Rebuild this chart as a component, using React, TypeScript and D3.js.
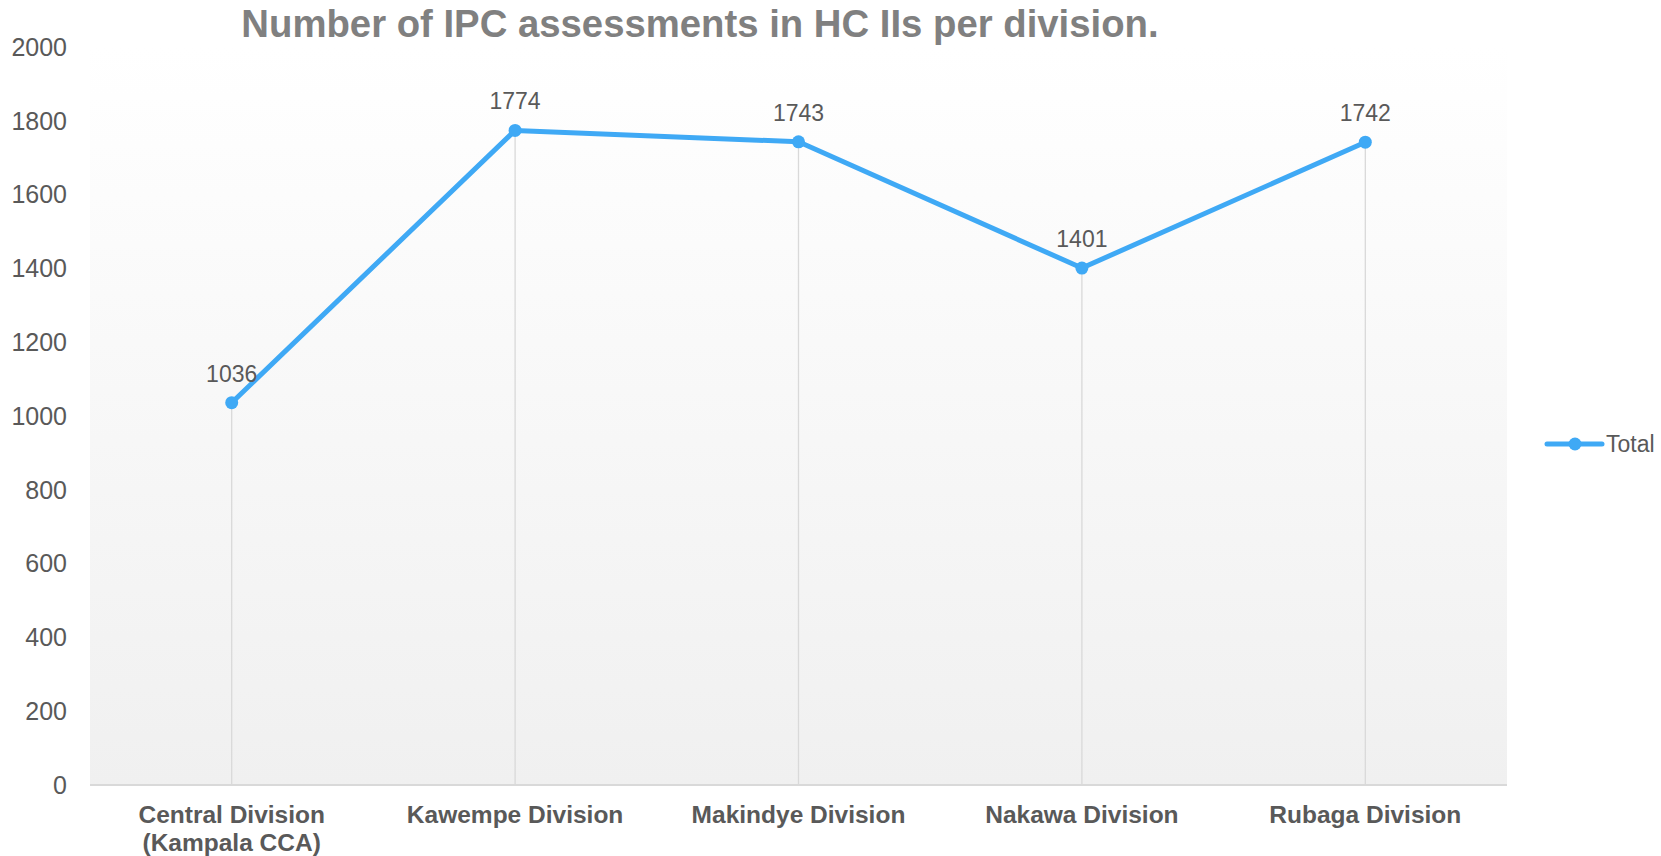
import React from "react";
import * as d3 from "d3";

const categories: string[][] = [
  ["Central Division", "(Kampala CCA)"],
  ["Kawempe Division"],
  ["Makindye Division"],
  ["Nakawa Division"],
  ["Rubaga Division"],
];
const totals: number[] = [1036, 1774, 1743, 1401, 1742];
const yTicks: number[] = [0, 200, 400, 600, 800, 1000, 1200, 1400, 1600, 1800, 2000];
const title = "Number of IPC assessments in HC IIs per division.";
const seriesName = "Total";

const W = 1661;
const H = 856;
const left = 90;
const right = 1507;
const top = 47;
const bottom = 785;
const blue = "#3fa9f5";
const font = "'Liberation Sans', Arial, sans-serif";

export default function App() {
  const x = d3
    .scaleBand<number>()
    .domain(categories.map((_, i) => i))
    .range([left, right]);
  const cx = (i: number) => (x(i) as number) + x.bandwidth() / 2;
  const y = d3.scaleLinear().domain([0, 2000]).range([bottom, top]);
  const line = d3
    .line<number>()
    .x((_, i) => cx(i))
    .y((d) => y(d));

  return (
    <svg
      width={W}
      height={H}
      style={{ position: "absolute", left: 0, top: 0, background: "#fff" }}
      fontFamily={font}
    >
      <defs>
        <linearGradient id="bg" x1="0" y1="0" x2="0" y2="1">
          <stop offset="0" stopColor="#ffffff" />
          <stop offset="1" stopColor="#f0f0f0" />
        </linearGradient>
      </defs>
      <rect x={left} y={y(2000)} width={right - left} height={bottom - y(2000)} fill="url(#bg)" />
      <text x={700} y={37} textAnchor="middle" fontSize={38.3} fontWeight="bold" fill="#808080">
        {title}
      </text>
      {yTicks.map((t) => (
        <text key={t} x={67} y={y(t)} dy="0.35em" textAnchor="end" fontSize={25} fill="#595959">
          {t}
        </text>
      ))}
      {totals.map((v, i) => (
        <line key={i} x1={cx(i)} x2={cx(i)} y1={y(v)} y2={bottom} stroke="#d9d9d9" strokeWidth={1.3} />
      ))}
      <line x1={left} x2={right} y1={bottom} y2={bottom} stroke="#d9d9d9" strokeWidth={2} />
      <path d={line(totals) || ""} fill="none" stroke={blue} strokeWidth={5} strokeLinejoin="round" />
      {totals.map((v, i) => (
        <circle key={i} cx={cx(i)} cy={y(v)} r={6.5} fill={blue} />
      ))}
      {totals.map((v, i) => (
        <text key={i} x={cx(i)} y={y(v) - 29} dy="0.35em" textAnchor="middle" fontSize={23} fill="#595959">
          {v}
        </text>
      ))}
      {categories.map((lines, i) => (
        <text key={i} x={cx(i)} textAnchor="middle" fontSize={24.5} fontWeight="bold" fill="#595959">
          {lines.map((l, j) => (
            <tspan key={j} x={cx(i)} y={823 + j * 27.5}>
              {l}
            </tspan>
          ))}
        </text>
      ))}
      <line x1={1547} x2={1602} y1={444} y2={444} stroke={blue} strokeWidth={5} strokeLinecap="round" />
      <circle cx={1575} cy={444} r={6.5} fill={blue} />
      <text x={1606} y={444} dy="0.35em" fontSize={23} fill="#595959">
        {seriesName}
      </text>
    </svg>
  );
}
